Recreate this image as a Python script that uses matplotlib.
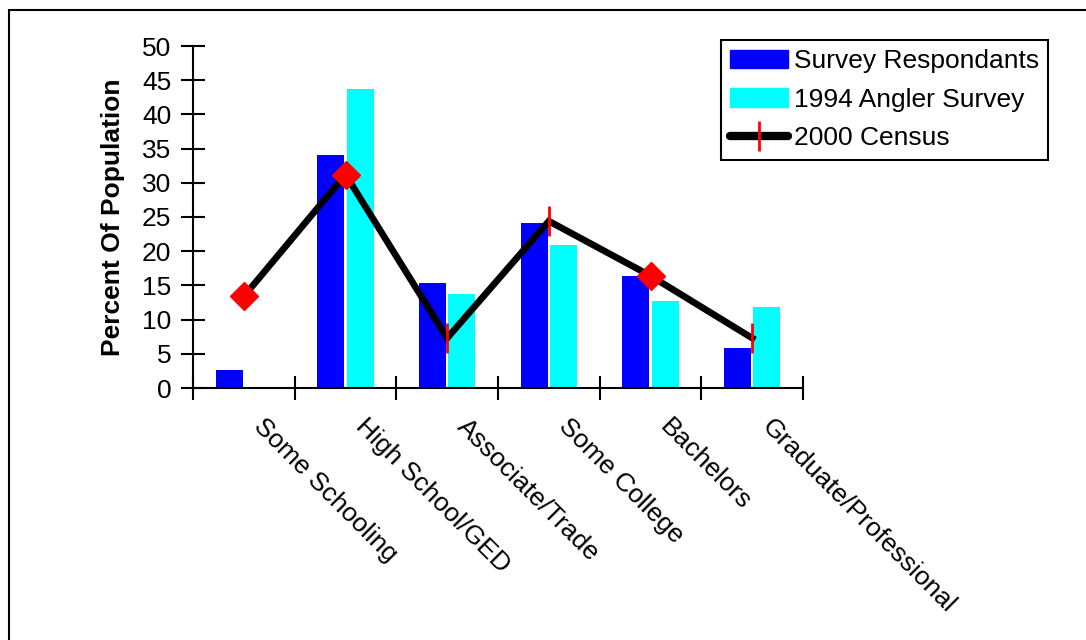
import numpy as np
import matplotlib
matplotlib.use("Agg")
import matplotlib.pyplot as plt
import matplotlib.transforms as mtrans
from matplotlib.lines import Line2D
from matplotlib.patches import Patch, Rectangle

plt.rcParams['font.family'] = ['Liberation Sans', 'DejaVu Sans']

categories = ["Some Schooling", "High School/GED", "Associate/Trade",
              "Some College", "Bachelors", "Graduate/Professional"]
survey = [2.7, 34.0, 15.3, 24.1, 16.4, 5.9]
angler_1994 = [0, 43.7, 13.8, 20.9, 12.7, 11.8]
census_2000 = [13.4, 31.2, 7.3, 24.4, 16.4, 7.3]
diamond_pts = [0, 1, 4]   # points drawn with a diamond marker
tick_pts = [2, 3, 5]      # points drawn with a red bar marker

fig = plt.figure(figsize=(10.86, 6.4), dpi=100)
ax = fig.add_axes([193/1086, 1-388/640, 610/1086, 342/640])

x = np.arange(len(categories))
w = 0.265
ax.bar(x - 0.143, survey, w, color="#0000ff")
ax.bar(x + 0.143, angler_1994, w, color="#00ffff")

ax.plot(x, census_2000, color="black", lw=4.8, zorder=3,
        solid_joinstyle="miter")
ax.plot(x[tick_pts], np.array(census_2000)[tick_pts], ls="none", marker="|",
        ms=21, mew=2, color="red", zorder=4)
ax.plot(x[diamond_pts], np.array(census_2000)[diamond_pts], ls="none", marker="D",
        ms=14, color="red", mec="red", zorder=4)

ax.set_xlim(-0.5, len(categories) - 0.5)
ax.set_ylim(0, 50)
ax.set_yticks(np.arange(0, 51, 5))
ax.set_xticks(np.arange(-0.5, len(categories), 1.0))
ax.set_xticklabels([])
ax.set_xticks(x, minor=True)
ax.set_xticklabels(categories, minor=True, rotation=-45, ha="left", va="top",
                   rotation_mode="anchor", fontsize=19)
ax.tick_params(axis="x", which="minor", length=0, pad=19)
offset = mtrans.ScaledTranslation(22/100, 0, fig.dpi_scale_trans)
for lab in ax.get_xticklabels(minor=True):
    lab.set_transform(lab.get_transform() + offset)

ax.tick_params(axis="both", which="major", direction="inout", length=17,
               width=1.5, labelsize=19)
ax.tick_params(axis="y", pad=7)
for s in ["top", "right"]:
    ax.spines[s].set_visible(False)
for s in ["left", "bottom"]:
    ax.spines[s].set_linewidth(1.5)

ax.set_ylabel("Percent Of Population", fontsize=19, fontweight="bold", labelpad=12)

handles = [Patch(color="#0000ff"), Patch(color="#00ffff"),
           Line2D([], [], color="black", lw=6, solid_capstyle="round",
                  marker="|", ms=21, mew=2, mec="red")]
leg = fig.legend(handles, ["Survey Respondants", "1994 Angler Survey", "2000 Census"],
                 loc="upper left", bbox_to_anchor=(721/1086, 1-40/640),
                 fontsize=19, fancybox=False, framealpha=1, edgecolor="black",
                 handlelength=2.2, handletextpad=0.22, labelspacing=0.55,
                 borderpad=0.35, borderaxespad=0)
leg.get_frame().set_linewidth(1.5)

frame = Rectangle((9/1086, -0.1), 1.2, 1.1 - 10/640, transform=fig.transFigure,
                  fill=False, edgecolor="black", lw=1.5, clip_on=False)
fig.patches.append(frame)

fig.savefig("out.png", dpi=100)
